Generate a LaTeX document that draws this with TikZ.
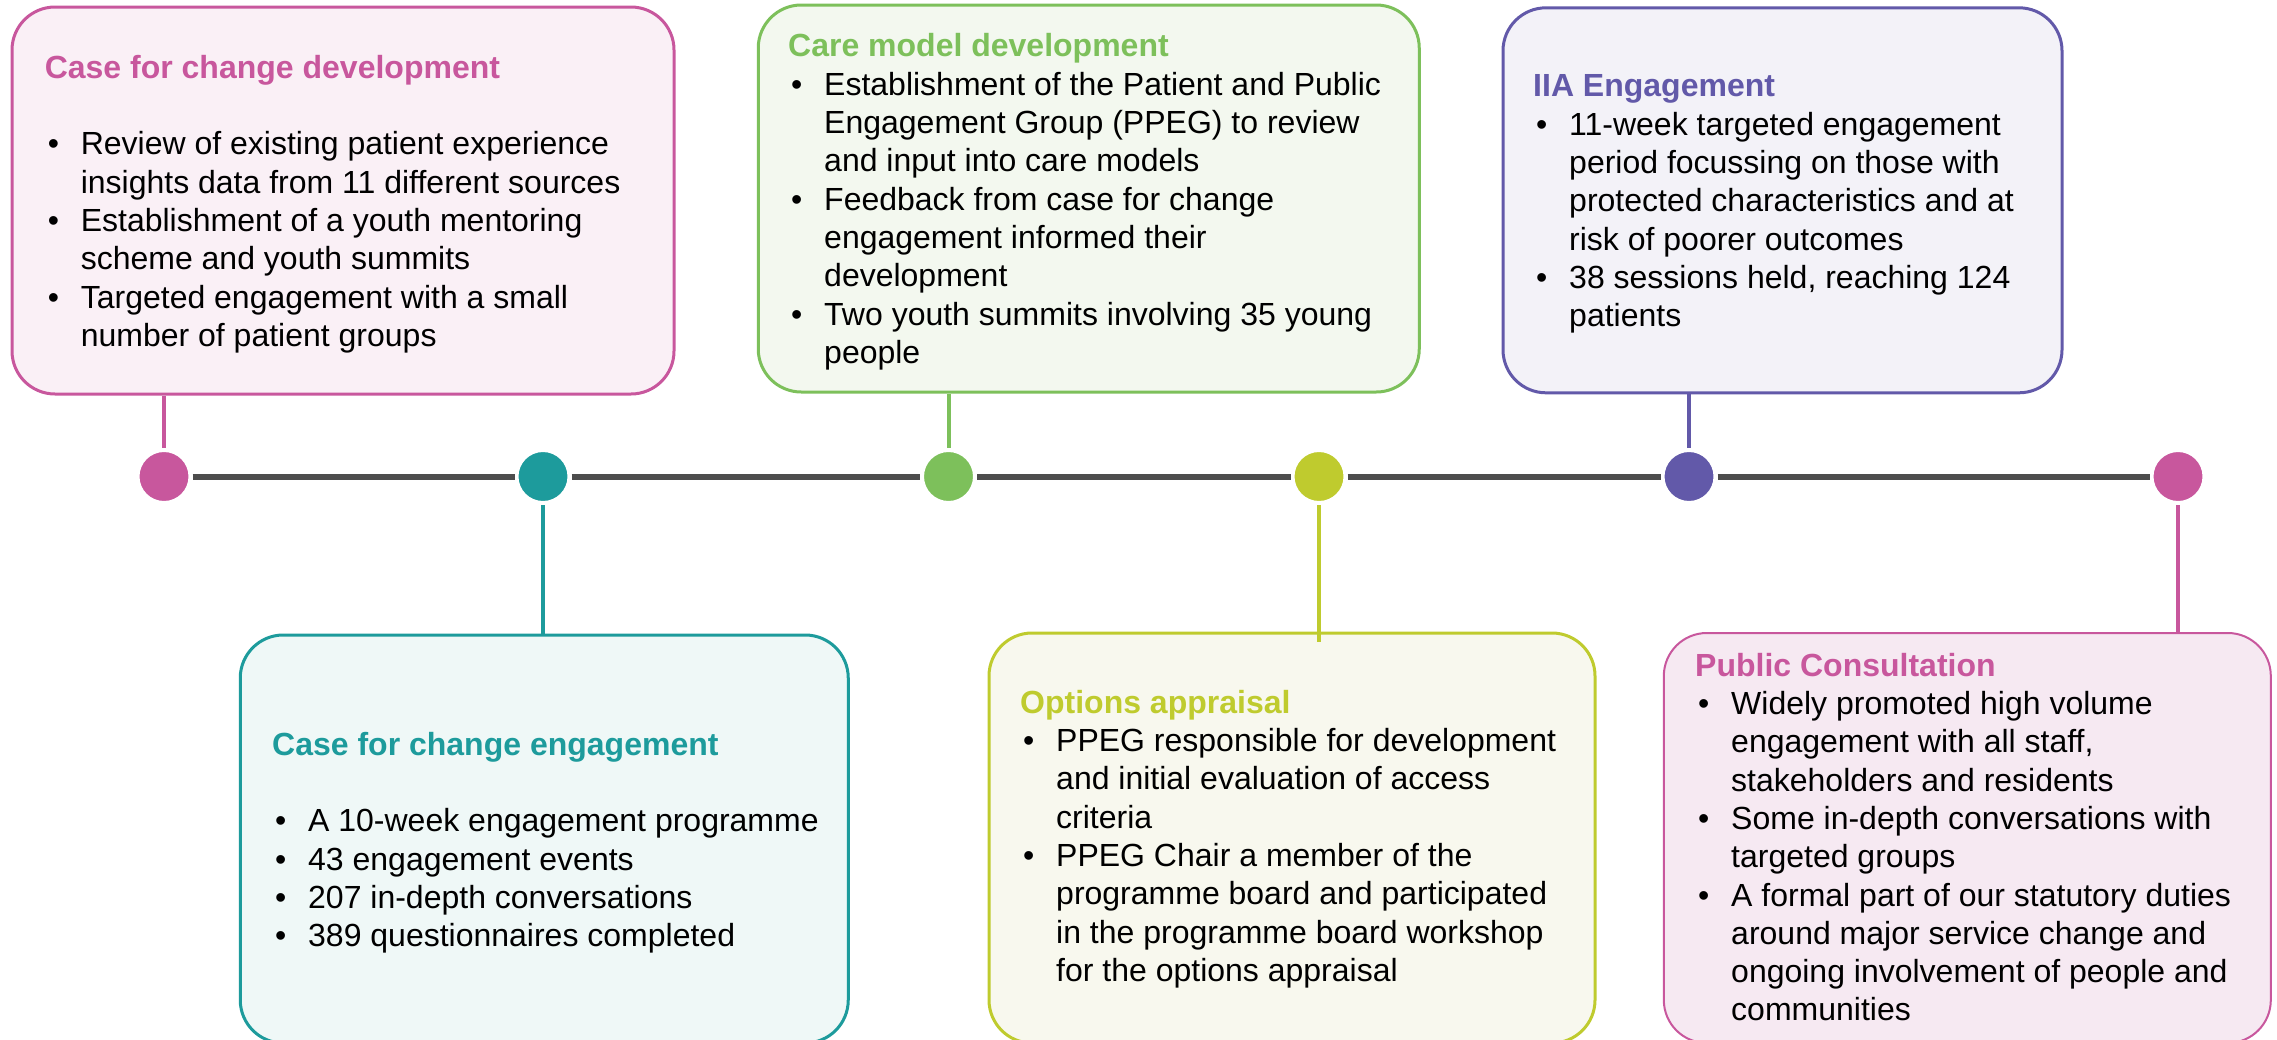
\documentclass[tikz,border=0pt]{standalone}
\usepackage{fontspec}
\setmainfont{Liberation Sans}
\usetikzlibrary{calc}
\definecolor{pinkc}{HTML}{C8579D}
\definecolor{pinkfill}{HTML}{FAF0F6}
\definecolor{pinkfillb}{HTML}{F6E9F2}
\definecolor{tealc}{HTML}{1D9B9C}
\definecolor{tealfill}{HTML}{EFF8F7}
\definecolor{greenc}{HTML}{7DC05B}
\definecolor{greenfill}{HTML}{F3F8EF}
\definecolor{limec}{HTML}{BFCB2E}
\definecolor{limefill}{HTML}{F8F8EE}
\definecolor{purplec}{HTML}{6259A9}
\definecolor{purplefill}{HTML}{F3F2F8}
\definecolor{linec}{HTML}{4D4D4D}
\newcommand{\mybul}{\hspace*{3pt}\makebox[33pt][l]{\textbullet}}
\newcommand{\myind}{\hspace*{36pt}}
\newcommand{\mytitle}[2]{\rule{0pt}{25pt}\textbf{\color{#1}#2}}
\tikzset{
  box/.style={draw=#1, rectangle, rounded corners=43pt, line width=3pt, inner sep=0pt},
  dot/.style={circle, fill=#1, draw=white, line width=4pt, minimum size=53pt, inner sep=0pt},
  conn/.style={draw=#1, line width=4pt},
  tl/.style={draw=linec, line width=6pt},
  txt/.style={anchor=north west, inner sep=0pt, align=left, font=\fontsize{32}{38.3}\selectfont},
}
\begin{document}
\begin{tikzpicture}[x=1pt,y=-1pt]
\useasboundingbox (0,0) rectangle (2277,1039);
% boxes
\node[box=pinkc, fill=pinkfill, minimum width=662pt, minimum height=387pt] (b1) at (343,200.5) {};
\node[box=tealc, fill=tealfill, minimum width=608pt, minimum height=408pt] (b2) at (544.25,839) {};
\node[box=greenc, fill=greenfill, minimum width=661pt, minimum height=387pt] (b3) at (1088.75,198.5) {};
\node[box=limec, fill=limefill, minimum width=606pt, minimum height=410pt] (b4) at (1292,838) {};
\node[box=purplec, fill=purplefill, minimum width=559pt, minimum height=385pt] (b5) at (1782.5,200.3) {};
\node[box=pinkc, fill=pinkfillb, minimum width=607pt, minimum height=410pt, line width=2pt] (b6) at (1967.3,838) {};
% dots
\node[dot=pinkc] (c1) at (164,476.5) {};
\node[dot=tealc] (c2) at (543,476.5) {};
\node[dot=greenc] (c3) at (948.5,476.5) {};
\node[dot=limec] (c4) at (1319,476.5) {};
\node[dot=purplec] (c5) at (1689,476.5) {};
\node[dot=pinkc] (c6) at (2178,476.5) {};
% timeline
\draw[tl] (c1) -- (c2);
\draw[tl] (c2) -- (c3);
\draw[tl] (c3) -- (c4);
\draw[tl] (c4) -- (c5);
\draw[tl] (c5) -- (c6);
% connectors
\draw[conn=pinkc] (c1 |- b1.south) -- (c1);
\draw[conn=tealc] (c2) -- (c2 |- b2.north);
\draw[conn=greenc] (c3 |- b3.south) -- (c3);
\draw[conn=limec] (c4) -- ($(c4 |- b4.north)+(0,10)$);
\draw[conn=purplec] (c5 |- b5.south) -- (c5);
\draw[conn=pinkc] (c6) -- (c6 |- b6.north);
% texts
\node[txt] (t1) at (44.6,53) {\mytitle{pinkc}{Case for change development}\\[38.3pt]
\mybul Review of existing patient experience\\
\myind insights data from 11 different sources\\
\mybul Establishment of a youth mentoring\\
\myind scheme and youth summits\\
\mybul Targeted engagement with a small\\
\myind number of patient groups};
\node[txt] (t2) at (272,730) {\mytitle{tealc}{Case for change engagement}\\[38.3pt]
\mybul A 10-week engagement programme\\
\mybul 43 engagement events\\
\mybul 207 in-depth conversations\\
\mybul 389 questionnaires completed};
\node[txt] (t3) at (788,31.7) {\mytitle{greenc}{Care model development}\\
\mybul Establishment of the Patient and Public\\
\myind Engagement Group (PPEG) to review\\
\myind and input into care models\\
\mybul Feedback from case for change\\
\myind engagement informed their\\
\myind development\\
\mybul Two youth summits involving 35 young\\
\myind people};
\node[txt] (t4) at (1020,688) {\mytitle{limec}{Options appraisal}\\
\mybul PPEG responsible for development\\
\myind and initial evaluation of access\\
\myind criteria\\
\mybul PPEG Chair a member of the\\
\myind programme board and participated\\
\myind in the programme board workshop\\
\myind for the options appraisal};
\node[txt] (t5) at (1533,71.7) {\mytitle{purplec}{IIA Engagement}\\
\mybul 11-week targeted engagement\\
\myind period focussing on those with\\
\myind protected characteristics and at\\
\myind risk of poorer outcomes\\
\mybul 38 sessions held, reaching 124\\
\myind patients};
\node[txt] (t6) at (1695,651) {\mytitle{pinkc}{Public Consultation}\\
\mybul Widely promoted high volume\\
\myind engagement with all staff,\\
\myind stakeholders and residents\\
\mybul Some in-depth conversations with\\
\myind targeted groups\\
\mybul A formal part of our statutory duties\\
\myind around major service change and\\
\myind ongoing involvement of people and\\
\myind communities};
\end{tikzpicture}
\end{document}
